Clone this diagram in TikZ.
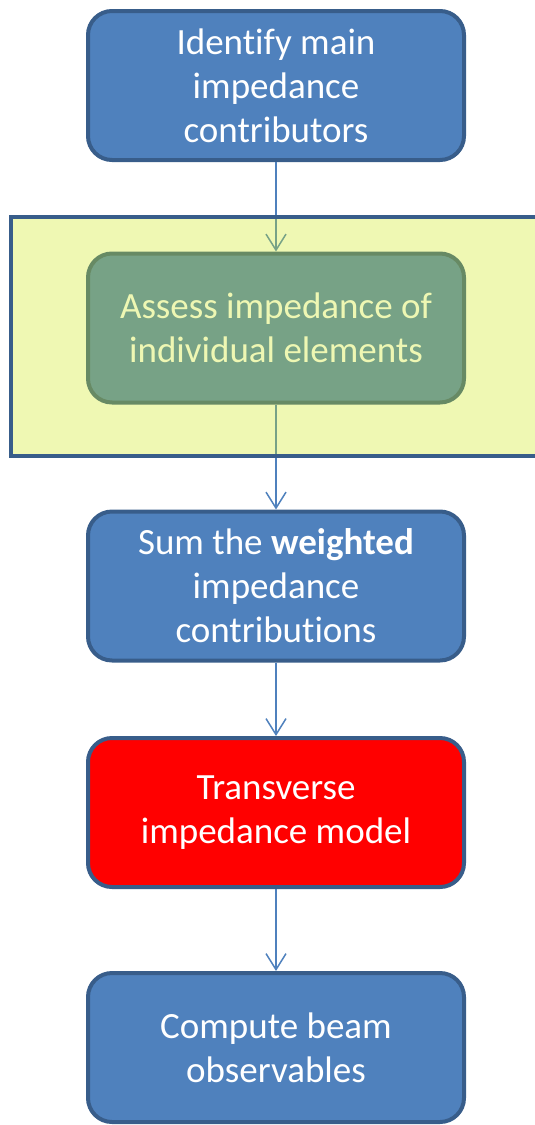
\documentclass[tikz,border=0pt]{standalone}
\usepackage{fontspec}
\setmainfont{Carlito}[Ligatures={NoCommon}]
\usetikzlibrary{arrows.meta}
\definecolor{boxblue}{RGB}{79,129,189}
\definecolor{boxedge}{RGB}{56,93,138}
\definecolor{overlay}{RGB}{205,233,20}
\begin{document}
\begin{tikzpicture}[x=1pt,y=-1pt,
  flowbox/.style={draw=boxedge, line width=4pt, fill=boxblue, rounded corners=24pt,
    minimum width=376pt, minimum height=149pt, text=white, align=center,
    font=\fontsize{37}{44}\selectfont, inner sep=0pt},
  redbox/.style={flowbox, fill=red},
  link/.style={draw=boxblue, line width=1.5pt, -{Straight Barb[length=16pt,width=20pt]}}]
\useasboundingbox (0,0) rectangle (535,1125);
\node[flowbox] (b1) at (276,85.5) {Identify main\\impedance\\contributors};
\node[flowbox] (b2) at (276,328) {Assess impedance of\\individual elements};
\node[flowbox] (b3) at (276,586) {Sum the \textbf{weighted}\\impedance\\contributions};
\node[redbox] (b4) at (276,812.5) {Transverse\\impedance model};
\node[flowbox] (b5) at (276,1047.5) {Compute beam\\observables};
\draw[link] (b1) -- (b2);
\draw[link] (b2) -- (b3);
\draw[link] (b3) -- (b4);
\draw[link] (b4) -- (b5);
\path[fill=overlay, fill opacity=0.32, draw=boxedge, line width=4pt] (11,217) rectangle (620,456);
\end{tikzpicture}
\end{document}
